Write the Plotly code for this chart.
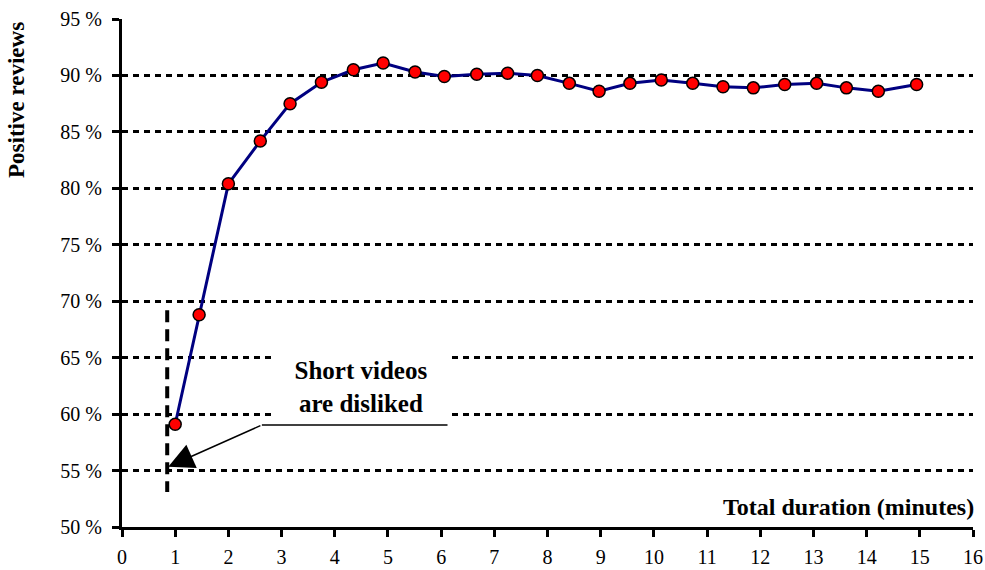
import plotly.graph_objects as go

# Share of positive reviews by total video duration
duration_min = [1.0, 1.45, 2.0, 2.6, 3.16, 3.75, 4.35, 4.91, 5.51, 6.06, 6.67, 7.25,
                7.81, 8.41, 8.97, 9.55, 10.14, 10.73, 11.30, 11.87, 12.46, 13.06,
                13.62, 14.22, 14.94]
positive_pct = [59.1, 68.8, 80.4, 84.2, 87.5, 89.4, 90.5, 91.1, 90.3, 89.9, 90.1, 90.2,
                90.0, 89.3, 88.6, 89.3, 89.6, 89.3, 89.0, 88.9, 89.2, 89.3,
                88.9, 88.6, 89.2]

y_ticks = [50, 55, 60, 65, 70, 75, 80, 85, 90, 95]
y_labels = [f"{v} %" for v in y_ticks]
x_ticks = list(range(0, 17))

FONT = "Liberation Serif"
TICK_FONT = dict(family=FONT, size=20, color="black")

fig = go.Figure()

# vertical dashed marker near the 1-minute mark
fig.add_trace(go.Scatter(
    x=[0.85, 0.85], y=[69.2, 53.1], mode="lines",
    line=dict(color="black", width=4, dash="12px,7px"),
    hoverinfo="skip", showlegend=False,
))

fig.add_trace(go.Scatter(
    x=duration_min, y=positive_pct, mode="lines+markers",
    line=dict(color="#000080", width=3),
    marker=dict(size=12, color="#ff0000", line=dict(color="black", width=1.5)),
    showlegend=False,
))

# callout: label box, horizontal leader and arrow
fig.add_annotation(
    x=4.49, y=62.4, xref="x", yref="y",
    text="<b>Short videos<br>are disliked</b>", showarrow=False,
    font=dict(family=FONT, size=25, color="black"),
    bgcolor="white", width=172, height=64, align="center",
)
fig.add_shape(type="line", x0=6.12, x1=2.63, y0=59.04, y1=59.04,
              xref="x", yref="y", line=dict(color="black", width=1.5))
fig.add_annotation(
    x=0.87, y=55.34, ax=2.63, ay=59.04, xref="x", yref="y", axref="x", ayref="y",
    text="", showarrow=True, arrowhead=2, arrowsize=3.4, arrowwidth=1.5,
    arrowcolor="black", standoff=0,
)

# axis titles
fig.add_annotation(
    x=1.0035, y=0.039, xref="paper", yref="paper", xanchor="right", yanchor="middle",
    text="<b>Total duration (minutes)</b>", showarrow=False,
    font=dict(family=FONT, size=24, color="black"),
)
fig.add_annotation(
    x=-0.1234, y=0.8406, xref="paper", yref="paper", xanchor="center", yanchor="middle",
    text="<b>Positive reviews</b>", showarrow=False, textangle=-90,
    font=dict(family=FONT, size=23, color="black"),
)

fig.update_layout(
    width=985, height=570,
    margin=dict(l=122, r=12, t=19, b=43),
    plot_bgcolor="white", paper_bgcolor="white",
    font=dict(family=FONT, size=20, color="black"),
)
fig.update_xaxes(
    range=[0, 16], tickvals=x_ticks, ticktext=[str(v) for v in x_ticks],
    tickfont=TICK_FONT,
    showgrid=False, zeroline=False, automargin=False,
    showline=True, linecolor="black", linewidth=3,
    ticks="outside", ticklen=7, tickwidth=3, tickcolor="black",
    ticklabelstandoff=3,
)
fig.update_yaxes(
    range=[50, 95], tickvals=y_ticks, ticktext=y_labels,
    tickfont=TICK_FONT,
    showgrid=True, gridcolor="black", gridwidth=3, griddash="6px,5px",
    zeroline=False, automargin=False,
    showline=True, linecolor="black", linewidth=3,
    ticks="outside", ticklen=7, tickwidth=3, tickcolor="black",
    ticklabelstandoff=6,
)

fig.write_html("out.html")
